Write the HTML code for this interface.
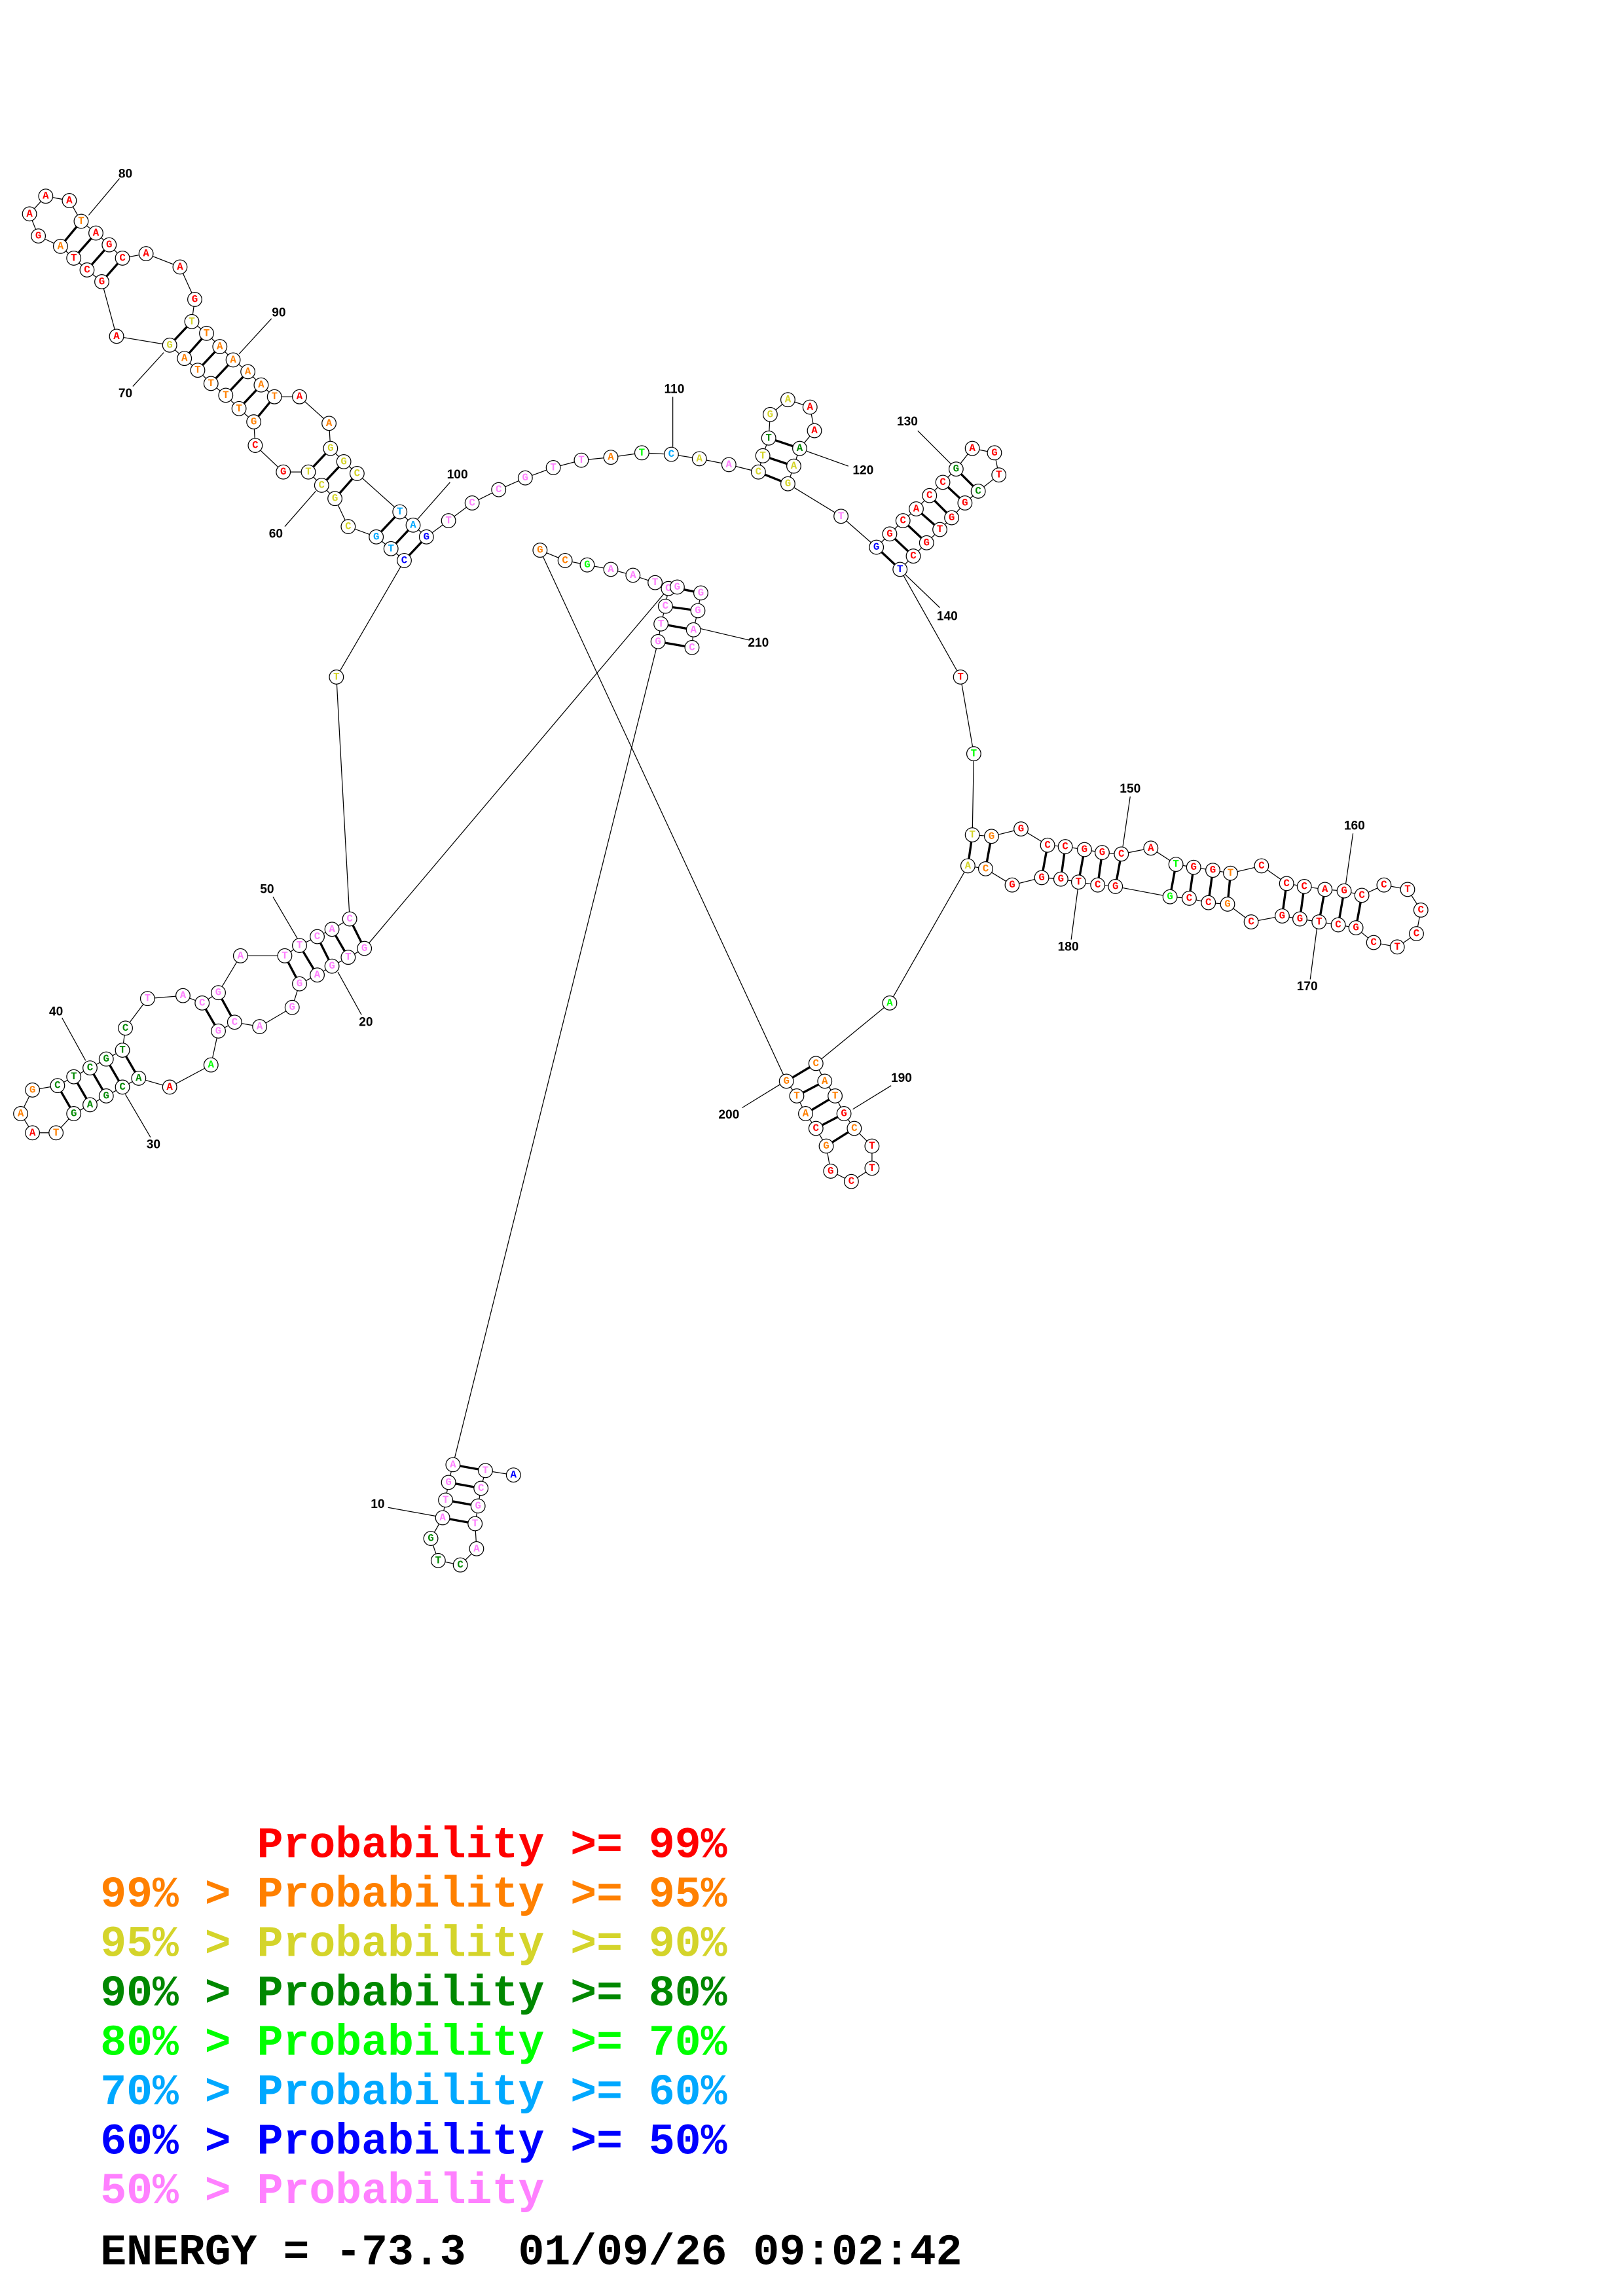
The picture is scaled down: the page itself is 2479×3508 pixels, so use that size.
<!DOCTYPE html>
<html><head><meta charset="utf-8"><style>
html,body{margin:0;padding:0;background:#fff}
svg{display:block}
.bb{fill:none;stroke:#000;stroke-width:0.55}
.pr{stroke:#000;stroke-width:1.5}
.ll{stroke:#000;stroke-width:0.55}
circle{fill:#fff;stroke:#000;stroke-width:0.55}
.n{font-family:"Liberation Mono",monospace;font-weight:bold;font-size:7px;text-anchor:middle;dominant-baseline:central}
.lb{font-family:"Liberation Sans",sans-serif;font-weight:bold;font-size:8.5px;text-anchor:middle;dominant-baseline:central;fill:#000}
.lg text{font-family:"Liberation Mono",monospace;font-weight:bold;font-size:29.5px;white-space:pre}
.r{fill:#ff0000}.o{fill:#ff8000}.y{fill:#d4d42a}.g{fill:#008800}.l{fill:#00ff00}.c{fill:#00a8ff}.b{fill:#0000ff}.p{fill:#ff80ff}
</style></head><body>
<svg xmlns="http://www.w3.org/2000/svg" width="2479" height="3508" viewBox="0 0 1100 1556.6">
<rect width="1100" height="1556.6" fill="#fff"/>
<polyline class="bb" points="348,1000 329,997 326,1009 324,1021 322,1033 323,1050 312,1061 297,1058 292,1043 300,1029 302,1017 304,1005 307,993 446,435 448,423 451,411 453,399 247,643 236,649 225,655 215,661 203,667 198,683 176,696 159,693 148,699 143,722 115,737 94,731 83,737 72,743 61,749 50,755 38,768 22,768 14,755 22,739 39,736 50,730 61,724 72,718 83,712 85,697 100,677 124,675 137,680 148,673 163,648 193,648 203,641 215,635 225,630 237,623 228,459 274,380 265,372 255,364 236,357 227,338 218,329 209,320 192,320 173,302 172,286 162,277 153,268 143,260 134,251 125,243 115,234 79,228 69,191 59,183 50,175 41,167 26,160 20,145 31,133 47,136 55,150 65,158 74,166 83,175 99,172 122,181 132,203 130,218 140,226 149,235 158,244 168,252 177,261 186,269 203,269 223,287 224,304 233,313 242,321 271,347 280,356 289,364 304,353 320,341 338,332 356,324 375,317 394,312 414,310 435,307 455,308 474,311 494,315 514,320 517,309 521,297 522,281 534,271 549,276 552,292 542,304 538,316 534,328 570,350 594,371 603,362 612,353 621,345 630,336 639,327 648,318 659,304 674,307 677,322 663,333 654,341 645,351 637,359 628,368 619,377 610,386 651,459 660,511 659,566 672,567 692,562 710,573 722,574 735,576 747,578 760,579 780,575 797,586 809,588 822,590 834,592 855,587 872,599 884,601 898,603 911,604 923,607 938,600 954,603 963,617 960,633 947,642 931,639 919,629 907,627 894,625 881,623 869,621 848,625 832,613 819,612 806,609 793,608 756,601 744,600 731,598 719,596 706,595 686,600 668,589 656,587 603,680 553,721 559,733 566,743 572,755 579,765 591,777 591,792 577,801 563,794 560,777 553,765 546,755 540,743 533,733 366,373 383,380 398,383 414,386 429,390 444,395 455,398 475,402 473,414 470,427 469,439"/>
<g class="pr">
<line x1="307" y1="993" x2="329" y2="997"/><line x1="304" y1="1005" x2="326" y2="1009"/><line x1="302" y1="1017" x2="324" y2="1021"/><line x1="300" y1="1029" x2="322" y2="1033"/>
<line x1="455" y1="398" x2="475" y2="402"/><line x1="451" y1="411" x2="473" y2="414"/><line x1="448" y1="423" x2="470" y2="427"/><line x1="446" y1="435" x2="469" y2="439"/>
<line x1="237" y1="623" x2="247" y2="643"/><line x1="225" y1="630" x2="236" y2="649"/><line x1="215" y1="635" x2="225" y2="655"/><line x1="203" y1="641" x2="215" y2="661"/><line x1="193" y1="648" x2="203" y2="667"/>
<line x1="148" y1="673" x2="159" y2="693"/><line x1="137" y1="680" x2="148" y2="699"/>
<line x1="83" y1="712" x2="94" y2="731"/><line x1="72" y1="718" x2="83" y2="737"/><line x1="61" y1="724" x2="72" y2="743"/><line x1="50" y1="730" x2="61" y2="749"/><line x1="39" y1="736" x2="50" y2="755"/>
<line x1="55" y1="150" x2="41" y2="167"/><line x1="65" y1="158" x2="50" y2="175"/><line x1="74" y1="166" x2="59" y2="183"/><line x1="83" y1="175" x2="69" y2="191"/>
<line x1="130" y1="218" x2="115" y2="234"/><line x1="140" y1="226" x2="125" y2="243"/><line x1="149" y1="235" x2="134" y2="251"/><line x1="158" y1="244" x2="143" y2="260"/><line x1="168" y1="252" x2="153" y2="268"/><line x1="177" y1="261" x2="162" y2="277"/><line x1="186" y1="269" x2="172" y2="286"/>
<line x1="224" y1="304" x2="209" y2="320"/><line x1="233" y1="313" x2="218" y2="329"/><line x1="242" y1="321" x2="227" y2="338"/>
<line x1="271" y1="347" x2="255" y2="364"/><line x1="280" y1="356" x2="265" y2="372"/><line x1="289" y1="364" x2="274" y2="380"/>
<line x1="514" y1="320" x2="534" y2="328"/><line x1="517" y1="309" x2="538" y2="316"/><line x1="521" y1="297" x2="542" y2="304"/>
<line x1="594" y1="371" x2="610" y2="386"/><line x1="603" y1="362" x2="619" y2="377"/><line x1="612" y1="353" x2="628" y2="368"/><line x1="621" y1="345" x2="637" y2="359"/><line x1="630" y1="336" x2="645" y2="351"/><line x1="639" y1="327" x2="654" y2="341"/><line x1="648" y1="318" x2="663" y2="333"/>
<line x1="659" y1="566" x2="656" y2="587"/><line x1="672" y1="567" x2="668" y2="589"/>
<line x1="710" y1="573" x2="706" y2="595"/><line x1="722" y1="574" x2="719" y2="596"/><line x1="735" y1="576" x2="731" y2="598"/><line x1="747" y1="578" x2="744" y2="600"/><line x1="760" y1="579" x2="756" y2="601"/>
<line x1="797" y1="586" x2="793" y2="608"/><line x1="809" y1="588" x2="806" y2="609"/><line x1="822" y1="590" x2="819" y2="612"/><line x1="834" y1="592" x2="832" y2="613"/>
<line x1="872" y1="599" x2="869" y2="621"/><line x1="884" y1="601" x2="881" y2="623"/><line x1="898" y1="603" x2="894" y2="625"/><line x1="911" y1="604" x2="907" y2="627"/><line x1="923" y1="607" x2="919" y2="629"/>
<line x1="553" y1="721" x2="533" y2="733"/><line x1="559" y1="733" x2="540" y2="743"/><line x1="566" y1="743" x2="546" y2="755"/><line x1="572" y1="755" x2="553" y2="765"/><line x1="579" y1="765" x2="560" y2="777"/>
</g>
<g class="ll">
<line x1="263" y1="1022" x2="296" y2="1028"/>
<line x1="245" y1="688" x2="229" y2="659"/>
<line x1="102" y1="771" x2="85" y2="742"/>
<line x1="42" y1="690" x2="58" y2="719"/>
<line x1="185" y1="608" x2="202" y2="637"/>
<line x1="193" y1="357" x2="214" y2="333"/>
<line x1="90" y1="262" x2="111" y2="239"/>
<line x1="81" y1="121" x2="60" y2="146"/>
<line x1="184" y1="216" x2="162" y2="240"/>
<line x1="305" y1="327" x2="283" y2="352"/>
<line x1="456" y1="269" x2="456" y2="303"/>
<line x1="575" y1="316" x2="547" y2="306"/>
<line x1="622" y1="292" x2="645" y2="315"/>
<line x1="637" y1="412" x2="613" y2="389"/>
<line x1="766" y1="540" x2="761" y2="574"/>
<line x1="917" y1="565" x2="912" y2="600"/>
<line x1="888" y1="664" x2="893" y2="626"/>
<line x1="726" y1="637" x2="731" y2="599"/>
<line x1="604" y1="736" x2="578" y2="752"/>
<line x1="503" y1="751" x2="529" y2="735"/>
<line x1="508" y1="434" x2="474" y2="426"/>
</g>
<g>
<text class="lb" x="256" y="1020">10</text><text class="lb" x="248" y="693">20</text><text class="lb" x="104" y="776">30</text><text class="lb" x="38" y="686">40</text><text class="lb" x="181" y="603">50</text><text class="lb" x="187" y="362">60</text><text class="lb" x="85" y="267">70</text><text class="lb" x="85" y="118">80</text><text class="lb" x="189" y="212">90</text><text class="lb" x="310" y="322">100</text><text class="lb" x="457" y="264">110</text><text class="lb" x="585" y="319">120</text><text class="lb" x="615" y="286">130</text><text class="lb" x="642" y="418">140</text><text class="lb" x="766" y="535">150</text><text class="lb" x="918" y="560">160</text><text class="lb" x="886" y="669">170</text><text class="lb" x="724" y="642">180</text><text class="lb" x="611" y="731">190</text><text class="lb" x="494" y="756">200</text><text class="lb" x="514" y="436">210</text>
</g>
<g>
<circle cx="348" cy="1000" r="4.8"/><text class="n b" x="348" y="1000">A</text>
<circle cx="329" cy="997" r="4.8"/><text class="n p" x="329" y="997">T</text>
<circle cx="326" cy="1009" r="4.8"/><text class="n p" x="326" y="1009">C</text>
<circle cx="324" cy="1021" r="4.8"/><text class="n p" x="324" y="1021">G</text>
<circle cx="322" cy="1033" r="4.8"/><text class="n p" x="322" y="1033">T</text>
<circle cx="323" cy="1050" r="4.8"/><text class="n p" x="323" y="1050">A</text>
<circle cx="312" cy="1061" r="4.8"/><text class="n g" x="312" y="1061">C</text>
<circle cx="297" cy="1058" r="4.8"/><text class="n g" x="297" y="1058">T</text>
<circle cx="292" cy="1043" r="4.8"/><text class="n g" x="292" y="1043">G</text>
<circle cx="300" cy="1029" r="4.8"/><text class="n p" x="300" y="1029">A</text>
<circle cx="302" cy="1017" r="4.8"/><text class="n p" x="302" y="1017">T</text>
<circle cx="304" cy="1005" r="4.8"/><text class="n p" x="304" y="1005">G</text>
<circle cx="307" cy="993" r="4.8"/><text class="n p" x="307" y="993">A</text>

<circle cx="446" cy="435" r="4.8"/><text class="n p" x="446" y="435">G</text>
<circle cx="448" cy="423" r="4.8"/><text class="n p" x="448" y="423">T</text>
<circle cx="451" cy="411" r="4.8"/><text class="n p" x="451" y="411">C</text>
<circle cx="453" cy="399" r="4.8"/><text class="n p" x="453" y="399">C</text>
<circle cx="366" cy="373" r="4.8"/><text class="n o" x="366" y="373">G</text>
<circle cx="383" cy="380" r="4.8"/><text class="n o" x="383" y="380">C</text>
<circle cx="398" cy="383" r="4.8"/><text class="n l" x="398" y="383">G</text>
<circle cx="414" cy="386" r="4.8"/><text class="n p" x="414" y="386">A</text>
<circle cx="429" cy="390" r="4.8"/><text class="n p" x="429" y="390">A</text>
<circle cx="444" cy="395" r="4.8"/><text class="n p" x="444" y="395">T</text>
<circle cx="459" cy="398" r="4.8"/><text class="n p" x="459" y="398">G</text>
<circle cx="475" cy="402" r="4.8"/><text class="n p" x="475" y="402">G</text>
<circle cx="473" cy="414" r="4.8"/><text class="n p" x="473" y="414">G</text>
<circle cx="470" cy="427" r="4.8"/><text class="n p" x="470" y="427">A</text>
<circle cx="469" cy="439" r="4.8"/><text class="n p" x="469" y="439">C</text>

<circle cx="247" cy="643" r="4.8"/><text class="n p" x="247" y="643">G</text>
<circle cx="236" cy="649" r="4.8"/><text class="n p" x="236" y="649">T</text>
<circle cx="225" cy="655" r="4.8"/><text class="n p" x="225" y="655">G</text>
<circle cx="215" cy="661" r="4.8"/><text class="n p" x="215" y="661">A</text>
<circle cx="203" cy="667" r="4.8"/><text class="n p" x="203" y="667">G</text>
<circle cx="198" cy="683" r="4.8"/><text class="n p" x="198" y="683">G</text>
<circle cx="176" cy="696" r="4.8"/><text class="n p" x="176" y="696">A</text>
<circle cx="159" cy="693" r="4.8"/><text class="n p" x="159" y="693">C</text>
<circle cx="148" cy="699" r="4.8"/><text class="n p" x="148" y="699">G</text>
<circle cx="143" cy="722" r="4.8"/><text class="n l" x="143" y="722">A</text>
<circle cx="115" cy="737" r="4.8"/><text class="n r" x="115" y="737">A</text>
<circle cx="94" cy="731" r="4.8"/><text class="n g" x="94" y="731">A</text>
<circle cx="83" cy="737" r="4.8"/><text class="n g" x="83" y="737">C</text>
<circle cx="72" cy="743" r="4.8"/><text class="n g" x="72" y="743">G</text>
<circle cx="61" cy="749" r="4.8"/><text class="n g" x="61" y="749">A</text>
<circle cx="50" cy="755" r="4.8"/><text class="n g" x="50" y="755">G</text>
<circle cx="38" cy="768" r="4.8"/><text class="n o" x="38" y="768">T</text>
<circle cx="22" cy="768" r="4.8"/><text class="n r" x="22" y="768">A</text>
<circle cx="14" cy="755" r="4.8"/><text class="n o" x="14" y="755">A</text>
<circle cx="22" cy="739" r="4.8"/><text class="n o" x="22" y="739">G</text>
<circle cx="39" cy="736" r="4.8"/><text class="n g" x="39" y="736">C</text>
<circle cx="50" cy="730" r="4.8"/><text class="n g" x="50" y="730">T</text>
<circle cx="61" cy="724" r="4.8"/><text class="n g" x="61" y="724">C</text>
<circle cx="72" cy="718" r="4.8"/><text class="n g" x="72" y="718">G</text>
<circle cx="83" cy="712" r="4.8"/><text class="n g" x="83" y="712">T</text>
<circle cx="85" cy="697" r="4.8"/><text class="n g" x="85" y="697">C</text>
<circle cx="100" cy="677" r="4.8"/><text class="n p" x="100" y="677">T</text>
<circle cx="124" cy="675" r="4.8"/><text class="n p" x="124" y="675">A</text>
<circle cx="137" cy="680" r="4.8"/><text class="n p" x="137" y="680">C</text>
<circle cx="148" cy="673" r="4.8"/><text class="n p" x="148" y="673">G</text>
<circle cx="163" cy="648" r="4.8"/><text class="n p" x="163" y="648">A</text>
<circle cx="193" cy="648" r="4.8"/><text class="n p" x="193" y="648">T</text>
<circle cx="203" cy="641" r="4.8"/><text class="n p" x="203" y="641">T</text>
<circle cx="215" cy="635" r="4.8"/><text class="n p" x="215" y="635">C</text>
<circle cx="225" cy="630" r="4.8"/><text class="n p" x="225" y="630">A</text>
<circle cx="237" cy="623" r="4.8"/><text class="n p" x="237" y="623">C</text>
<circle cx="228" cy="459" r="4.8"/><text class="n y" x="228" y="459">T</text>

<circle cx="274" cy="380" r="4.8"/><text class="n b" x="274" y="380">C</text>
<circle cx="265" cy="372" r="4.8"/><text class="n c" x="265" y="372">T</text>
<circle cx="255" cy="364" r="4.8"/><text class="n c" x="255" y="364">G</text>
<circle cx="236" cy="357" r="4.8"/><text class="n y" x="236" y="357">C</text>
<circle cx="227" cy="338" r="4.8"/><text class="n y" x="227" y="338">G</text>
<circle cx="218" cy="329" r="4.8"/><text class="n y" x="218" y="329">C</text>
<circle cx="209" cy="320" r="4.8"/><text class="n y" x="209" y="320">T</text>
<circle cx="192" cy="320" r="4.8"/><text class="n r" x="192" y="320">G</text>
<circle cx="173" cy="302" r="4.8"/><text class="n r" x="173" y="302">C</text>
<circle cx="172" cy="286" r="4.8"/><text class="n o" x="172" y="286">G</text>
<circle cx="162" cy="277" r="4.8"/><text class="n o" x="162" y="277">T</text>
<circle cx="153" cy="268" r="4.8"/><text class="n o" x="153" y="268">T</text>
<circle cx="143" cy="260" r="4.8"/><text class="n o" x="143" y="260">T</text>
<circle cx="134" cy="251" r="4.8"/><text class="n o" x="134" y="251">T</text>
<circle cx="125" cy="243" r="4.8"/><text class="n o" x="125" y="243">A</text>
<circle cx="115" cy="234" r="4.8"/><text class="n y" x="115" y="234">G</text>
<circle cx="79" cy="228" r="4.8"/><text class="n r" x="79" y="228">A</text>
<circle cx="69" cy="191" r="4.8"/><text class="n r" x="69" y="191">G</text>
<circle cx="59" cy="183" r="4.8"/><text class="n r" x="59" y="183">C</text>
<circle cx="50" cy="175" r="4.8"/><text class="n r" x="50" y="175">T</text>
<circle cx="41" cy="167" r="4.8"/><text class="n o" x="41" y="167">A</text>
<circle cx="26" cy="160" r="4.8"/><text class="n r" x="26" y="160">G</text>
<circle cx="20" cy="145" r="4.8"/><text class="n r" x="20" y="145">A</text>
<circle cx="31" cy="133" r="4.8"/><text class="n r" x="31" y="133">A</text>
<circle cx="47" cy="136" r="4.8"/><text class="n r" x="47" y="136">A</text>
<circle cx="55" cy="150" r="4.8"/><text class="n o" x="55" y="150">T</text>
<circle cx="65" cy="158" r="4.8"/><text class="n r" x="65" y="158">A</text>
<circle cx="74" cy="166" r="4.8"/><text class="n r" x="74" y="166">G</text>
<circle cx="83" cy="175" r="4.8"/><text class="n r" x="83" y="175">C</text>
<circle cx="99" cy="172" r="4.8"/><text class="n r" x="99" y="172">A</text>
<circle cx="122" cy="181" r="4.8"/><text class="n r" x="122" y="181">A</text>
<circle cx="132" cy="203" r="4.8"/><text class="n r" x="132" y="203">G</text>
<circle cx="130" cy="218" r="4.8"/><text class="n y" x="130" y="218">T</text>
<circle cx="140" cy="226" r="4.8"/><text class="n o" x="140" y="226">T</text>
<circle cx="149" cy="235" r="4.8"/><text class="n o" x="149" y="235">A</text>
<circle cx="158" cy="244" r="4.8"/><text class="n o" x="158" y="244">A</text>
<circle cx="168" cy="252" r="4.8"/><text class="n o" x="168" y="252">A</text>
<circle cx="177" cy="261" r="4.8"/><text class="n o" x="177" y="261">A</text>
<circle cx="186" cy="269" r="4.8"/><text class="n o" x="186" y="269">T</text>
<circle cx="203" cy="269" r="4.8"/><text class="n r" x="203" y="269">A</text>
<circle cx="223" cy="287" r="4.8"/><text class="n o" x="223" y="287">A</text>
<circle cx="224" cy="304" r="4.8"/><text class="n y" x="224" y="304">G</text>
<circle cx="233" cy="313" r="4.8"/><text class="n y" x="233" y="313">G</text>
<circle cx="242" cy="321" r="4.8"/><text class="n y" x="242" y="321">C</text>
<circle cx="271" cy="347" r="4.8"/><text class="n c" x="271" y="347">T</text>
<circle cx="280" cy="356" r="4.8"/><text class="n c" x="280" y="356">A</text>
<circle cx="289" cy="364" r="4.8"/><text class="n b" x="289" y="364">G</text>

<circle cx="304" cy="353" r="4.8"/><text class="n p" x="304" y="353">T</text>
<circle cx="320" cy="341" r="4.8"/><text class="n p" x="320" y="341">C</text>
<circle cx="338" cy="332" r="4.8"/><text class="n p" x="338" y="332">C</text>
<circle cx="356" cy="324" r="4.8"/><text class="n p" x="356" y="324">G</text>
<circle cx="375" cy="317" r="4.8"/><text class="n p" x="375" y="317">T</text>
<circle cx="394" cy="312" r="4.8"/><text class="n p" x="394" y="312">T</text>
<circle cx="414" cy="310" r="4.8"/><text class="n o" x="414" y="310">A</text>
<circle cx="435" cy="307" r="4.8"/><text class="n l" x="435" y="307">T</text>
<circle cx="455" cy="308" r="4.8"/><text class="n c" x="455" y="308">C</text>
<circle cx="474" cy="311" r="4.8"/><text class="n y" x="474" y="311">A</text>
<circle cx="494" cy="315" r="4.8"/><text class="n p" x="494" y="315">A</text>
<circle cx="514" cy="320" r="4.8"/><text class="n y" x="514" y="320">C</text>
<circle cx="517" cy="309" r="4.8"/><text class="n y" x="517" y="309">T</text>
<circle cx="521" cy="297" r="4.8"/><text class="n g" x="521" y="297">T</text>
<circle cx="522" cy="281" r="4.8"/><text class="n y" x="522" y="281">G</text>
<circle cx="534" cy="271" r="4.8"/><text class="n y" x="534" y="271">A</text>
<circle cx="549" cy="276" r="4.8"/><text class="n r" x="549" y="276">A</text>
<circle cx="552" cy="292" r="4.8"/><text class="n r" x="552" y="292">A</text>
<circle cx="542" cy="304" r="4.8"/><text class="n g" x="542" y="304">A</text>
<circle cx="538" cy="316" r="4.8"/><text class="n y" x="538" y="316">A</text>
<circle cx="534" cy="328" r="4.8"/><text class="n y" x="534" y="328">G</text>
<circle cx="570" cy="350" r="4.8"/><text class="n p" x="570" y="350">T</text>
<circle cx="594" cy="371" r="4.8"/><text class="n b" x="594" y="371">G</text>
<circle cx="603" cy="362" r="4.8"/><text class="n r" x="603" y="362">G</text>
<circle cx="612" cy="353" r="4.8"/><text class="n r" x="612" y="353">C</text>
<circle cx="621" cy="345" r="4.8"/><text class="n r" x="621" y="345">A</text>
<circle cx="630" cy="336" r="4.8"/><text class="n r" x="630" y="336">C</text>
<circle cx="639" cy="327" r="4.8"/><text class="n r" x="639" y="327">C</text>
<circle cx="648" cy="318" r="4.8"/><text class="n g" x="648" y="318">G</text>
<circle cx="659" cy="304" r="4.8"/><text class="n r" x="659" y="304">A</text>
<circle cx="674" cy="307" r="4.8"/><text class="n r" x="674" y="307">G</text>
<circle cx="677" cy="322" r="4.8"/><text class="n r" x="677" y="322">T</text>
<circle cx="663" cy="333" r="4.8"/><text class="n g" x="663" y="333">C</text>
<circle cx="654" cy="341" r="4.8"/><text class="n r" x="654" y="341">G</text>
<circle cx="645" cy="351" r="4.8"/><text class="n r" x="645" y="351">G</text>
<circle cx="637" cy="359" r="4.8"/><text class="n r" x="637" y="359">T</text>
<circle cx="628" cy="368" r="4.8"/><text class="n r" x="628" y="368">G</text>
<circle cx="619" cy="377" r="4.8"/><text class="n r" x="619" y="377">C</text>
<circle cx="610" cy="386" r="4.8"/><text class="n b" x="610" y="386">T</text>
<circle cx="651" cy="459" r="4.8"/><text class="n r" x="651" y="459">T</text>
<circle cx="660" cy="511" r="4.8"/><text class="n l" x="660" y="511">T</text>

<circle cx="659" cy="566" r="4.8"/><text class="n y" x="659" y="566">T</text>
<circle cx="672" cy="567" r="4.8"/><text class="n o" x="672" y="567">G</text>
<circle cx="692" cy="562" r="4.8"/><text class="n r" x="692" y="562">G</text>
<circle cx="710" cy="573" r="4.8"/><text class="n r" x="710" y="573">C</text>
<circle cx="722" cy="574" r="4.8"/><text class="n r" x="722" y="574">C</text>
<circle cx="735" cy="576" r="4.8"/><text class="n r" x="735" y="576">G</text>
<circle cx="747" cy="578" r="4.8"/><text class="n r" x="747" y="578">G</text>
<circle cx="760" cy="579" r="4.8"/><text class="n r" x="760" y="579">C</text>
<circle cx="780" cy="575" r="4.8"/><text class="n r" x="780" y="575">A</text>
<circle cx="797" cy="586" r="4.8"/><text class="n l" x="797" y="586">T</text>
<circle cx="809" cy="588" r="4.8"/><text class="n r" x="809" y="588">G</text>
<circle cx="822" cy="590" r="4.8"/><text class="n r" x="822" y="590">G</text>
<circle cx="834" cy="592" r="4.8"/><text class="n o" x="834" y="592">T</text>
<circle cx="855" cy="587" r="4.8"/><text class="n r" x="855" y="587">C</text>
<circle cx="872" cy="599" r="4.8"/><text class="n r" x="872" y="599">C</text>
<circle cx="884" cy="601" r="4.8"/><text class="n r" x="884" y="601">C</text>
<circle cx="898" cy="603" r="4.8"/><text class="n r" x="898" y="603">A</text>
<circle cx="911" cy="604" r="4.8"/><text class="n r" x="911" y="604">G</text>
<circle cx="923" cy="607" r="4.8"/><text class="n r" x="923" y="607">C</text>
<circle cx="938" cy="600" r="4.8"/><text class="n r" x="938" y="600">C</text>
<circle cx="954" cy="603" r="4.8"/><text class="n r" x="954" y="603">T</text>
<circle cx="963" cy="617" r="4.8"/><text class="n r" x="963" y="617">C</text>
<circle cx="960" cy="633" r="4.8"/><text class="n r" x="960" y="633">C</text>
<circle cx="947" cy="642" r="4.8"/><text class="n r" x="947" y="642">T</text>
<circle cx="931" cy="639" r="4.8"/><text class="n r" x="931" y="639">C</text>
<circle cx="919" cy="629" r="4.8"/><text class="n r" x="919" y="629">G</text>
<circle cx="907" cy="627" r="4.8"/><text class="n r" x="907" y="627">C</text>
<circle cx="894" cy="625" r="4.8"/><text class="n r" x="894" y="625">T</text>
<circle cx="881" cy="623" r="4.8"/><text class="n r" x="881" y="623">G</text>
<circle cx="869" cy="621" r="4.8"/><text class="n r" x="869" y="621">G</text>
<circle cx="848" cy="625" r="4.8"/><text class="n r" x="848" y="625">C</text>
<circle cx="832" cy="613" r="4.8"/><text class="n o" x="832" y="613">G</text>
<circle cx="819" cy="612" r="4.8"/><text class="n r" x="819" y="612">C</text>
<circle cx="806" cy="609" r="4.8"/><text class="n r" x="806" y="609">C</text>
<circle cx="793" cy="608" r="4.8"/><text class="n l" x="793" y="608">G</text>
<circle cx="756" cy="601" r="4.8"/><text class="n r" x="756" y="601">G</text>
<circle cx="744" cy="600" r="4.8"/><text class="n r" x="744" y="600">C</text>
<circle cx="731" cy="598" r="4.8"/><text class="n r" x="731" y="598">T</text>
<circle cx="719" cy="596" r="4.8"/><text class="n r" x="719" y="596">G</text>
<circle cx="706" cy="595" r="4.8"/><text class="n r" x="706" y="595">G</text>
<circle cx="686" cy="600" r="4.8"/><text class="n r" x="686" y="600">G</text>
<circle cx="668" cy="589" r="4.8"/><text class="n o" x="668" y="589">C</text>
<circle cx="656" cy="587" r="4.8"/><text class="n y" x="656" y="587">A</text>

<circle cx="603" cy="680" r="4.8"/><text class="n l" x="603" y="680">A</text>
<circle cx="553" cy="721" r="4.8"/><text class="n o" x="553" y="721">C</text>
<circle cx="559" cy="733" r="4.8"/><text class="n o" x="559" y="733">A</text>
<circle cx="566" cy="743" r="4.8"/><text class="n o" x="566" y="743">T</text>
<circle cx="572" cy="755" r="4.8"/><text class="n r" x="572" y="755">G</text>
<circle cx="579" cy="765" r="4.8"/><text class="n o" x="579" y="765">C</text>
<circle cx="591" cy="777" r="4.8"/><text class="n r" x="591" y="777">T</text>
<circle cx="591" cy="792" r="4.8"/><text class="n r" x="591" y="792">T</text>
<circle cx="577" cy="801" r="4.8"/><text class="n r" x="577" y="801">C</text>
<circle cx="563" cy="794" r="4.8"/><text class="n r" x="563" y="794">G</text>
<circle cx="560" cy="777" r="4.8"/><text class="n o" x="560" y="777">G</text>
<circle cx="553" cy="765" r="4.8"/><text class="n r" x="553" y="765">C</text>
<circle cx="546" cy="755" r="4.8"/><text class="n o" x="546" y="755">A</text>
<circle cx="540" cy="743" r="4.8"/><text class="n o" x="540" y="743">T</text>
<circle cx="533" cy="733" r="4.8"/><text class="n o" x="533" y="733">G</text>
</g>
<g class="lg">
<text x="68" y="1259" fill="#ff0000" style="white-space:pre">      Probability &gt;= 99%</text>
<text x="68" y="1292.5" fill="#ff8000" style="white-space:pre">99% &gt; Probability &gt;= 95%</text>
<text x="68" y="1326" fill="#d4d42a" style="white-space:pre">95% &gt; Probability &gt;= 90%</text>
<text x="68" y="1359.5" fill="#008800" style="white-space:pre">90% &gt; Probability &gt;= 80%</text>
<text x="68" y="1393" fill="#00ff00" style="white-space:pre">80% &gt; Probability &gt;= 70%</text>
<text x="68" y="1426.5" fill="#00a8ff" style="white-space:pre">70% &gt; Probability &gt;= 60%</text>
<text x="68" y="1460" fill="#0000ff" style="white-space:pre">60% &gt; Probability &gt;= 50%</text>
<text x="68" y="1493.5" fill="#ff80ff" style="white-space:pre">50% &gt; Probability</text>
<text x="68" y="1535" fill="#000" style="white-space:pre">ENERGY = -73.3  01/09/26 09:02:42</text>
</g>
</svg>
</body></html>
